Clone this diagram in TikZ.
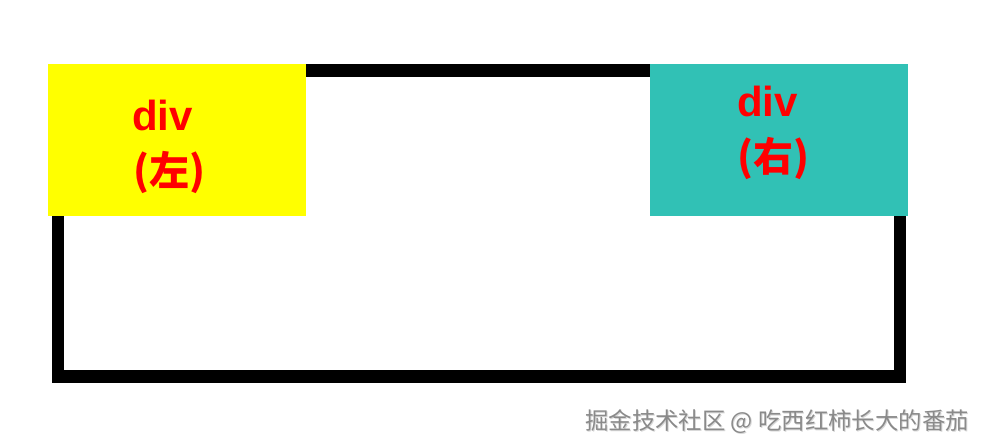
\documentclass[tikz,border=0pt]{standalone}
\usepackage{fontspec}
\setmainfont{Liberation Sans}
\newfontfamily\cjk{Noto Sans CJK SC}
\definecolor{boxyellow}{HTML}{FFFF00}
\definecolor{boxteal}{HTML}{31C1B5}
\definecolor{labred}{HTML}{FF0000}
\definecolor{wmgray}{HTML}{8A8A8A}
\definecolor{wmshadow}{HTML}{D8D8D8}
\tikzset{
  colbox/.style={draw=none, inner sep=0pt, anchor=north west, minimum width=258pt, minimum height=152pt},
  lab/.style={inner sep=0pt, anchor=base west, text=labred, font=\fontsize{40}{44}\selectfont\bfseries},
  frame/.style={draw=black, line width=12.5pt},
  wm/.style={inner sep=0pt, anchor=base west, font=\cjk\fontsize{23.4}{27}\selectfont}
}
\begin{document}
\begin{tikzpicture}[x=1pt,y=-1pt]
\useasboundingbox (0,0) rectangle (984,446);
\fill[white] (0,0) rectangle (984,446);
\coordinate (f1) at (58,70.5);
\coordinate (f2) at (900,376.5);
\draw[frame] (f1) rectangle (f2);
\node[colbox, fill=boxyellow] (left) at (48,64) {};
\node[colbox, fill=boxteal] (right) at (650,64) {};
\node[lab, font=\fontsize{42}{46}\selectfont\bfseries] (l1) at (132,131) {div};
\node[lab] (l2) at (133,186) {{\cjk\bfseries (左)}};
\node[lab, font=\fontsize{42}{46}\selectfont\bfseries] (r1) at (737,117) {div};
\node[lab] (r2) at (737,172) {{\cjk\bfseries (右)}};
\node[wm, text=wmshadow] (wms) at (586,430) {掘金技术社区 @ 吃西红柿长大的番茄};
\node[wm, text=wmgray] (wmt) at (585,429) {掘金技术社区 @ 吃西红柿长大的番茄};
\end{tikzpicture}
\end{document}
